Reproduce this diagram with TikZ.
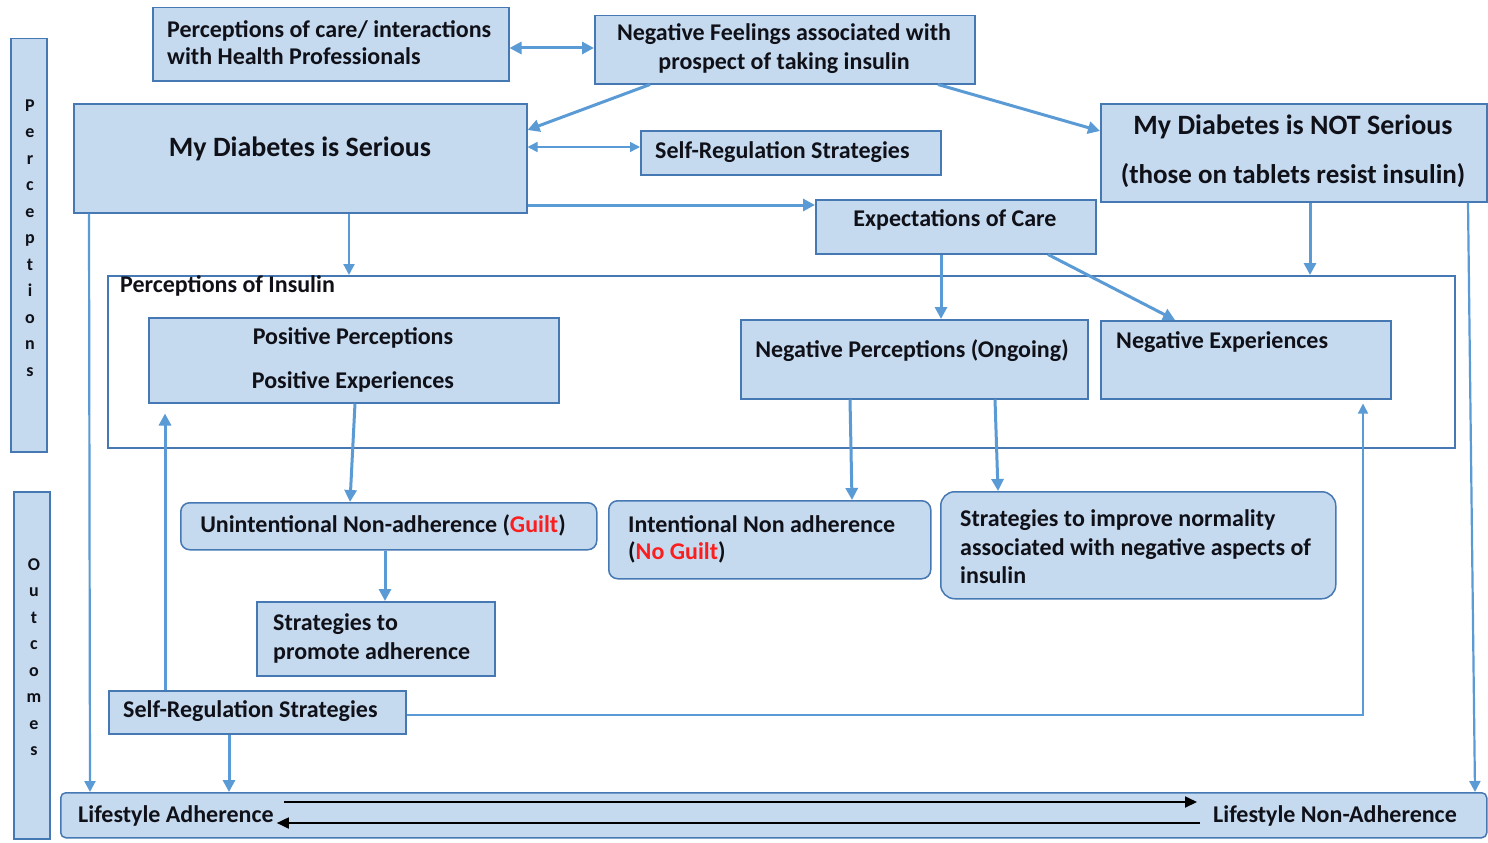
\documentclass[tikz,border=0pt]{standalone}
\usepackage{fontspec}
\setmainfont{Carlito}
\usetikzlibrary{arrows.meta}
\definecolor{boxfill}{RGB}{197,218,239}
\definecolor{boxline}{RGB}{70,120,180}
\definecolor{arrowblue}{RGB}{91,155,213}
\definecolor{textdark}{RGB}{16,16,24}
\definecolor{guiltred}{RGB}{250,30,30}
\newcommand\bfont[2]{\fontsize{#1}{#2}\selectfont\bfseries}

\begin{document}
\begin{tikzpicture}[x=1pt,y=-1pt,
  every node/.style={inner sep=0pt, text=textdark},
  box/.style={draw=boxline, fill=boxfill, line width=1.5pt, anchor=north west},
  rbox/.style={box, rounded corners=9pt},
  lbl/.style={font={\bfont{24}{27}}, align=left, anchor=west},
  clbl/.style={font={\bfont{24}{29}}, align=center},
  biglbl/.style={font={\bfont{28}{34}}, align=center},
  side/.style={font={\bfont{18}{26.5}}, align=center},
  arr/.style={draw=arrowblue, line width=3pt, -{Triangle[length=12pt,width=12pt]}},
  arrtwo/.style={arr, {Triangle[length=12pt,width=12pt]}-{Triangle[length=12pt,width=12pt]}},
  thinarr/.style={draw=arrowblue, line width=1.5pt, -{Triangle[length=10pt,width=10pt]}},
  thintwo/.style={thinarr, {Triangle[length=10pt,width=10pt]}-{Triangle[length=10pt,width=10pt]}},
  midarr/.style={draw=arrowblue, line width=2.2pt, -{Triangle[length=11pt,width=11pt]}},
  blackarr/.style={draw=black, line width=1.8pt, -{Triangle[length=12pt,width=11pt]}}]

\useasboundingbox (0,0) rectangle (1488,843);
\fill[white] (0,0) rectangle (1488,843);

% side bands
\node[box, minimum width=36pt, minimum height=413pt] (percband) at (10,38) {};
\node[side] (perctext) at (30,238) {P\\e\\r\\c\\e\\p\\t\\i\\o\\n\\s};
\node[box, minimum width=36pt, minimum height=347pt] (outband) at (13,491) {};
\node[side] (outtext) at (34,657) {O\\u\\t\\c\\o\\m\\e\\s};

% container for perceptions of insulin
\node[draw=boxline, line width=1.5pt, anchor=north west, minimum width=1347pt, minimum height=172pt] (insulin) at (107,275) {};
\node[lbl] (insulintext) at (120,286) {Perceptions of Insulin};

% upper boxes
\node[box, minimum width=356pt, minimum height=73pt] (care) at (152,7) {};
\node[lbl] (caretext) at (167,43) {Perceptions of care/ interactions\\with Health Professionals};

\node[box, minimum width=380pt, minimum height=68pt] (negfeel) at (594,15) {};
\node[clbl] (negfeeltext) at (784,49) {Negative Feelings associated with\\prospect of taking insulin};

\node[box, minimum width=453pt, minimum height=109pt] (serious) at (73,103) {};
\node[biglbl] (serioustext) at (300,149) {My Diabetes is Serious};

\node[box, minimum width=300pt, minimum height=44pt] (selfregtop) at (640,130) {};
\node[lbl] (selfregtoptext) at (655,152) {Self-Regulation Strategies};

\node[box, minimum width=386pt, minimum height=98pt] (notserious) at (1100,103) {};
\node[biglbl] (notserioustext) at (1293,127) {My Diabetes is NOT Serious};
\node[biglbl, font={\bfont{27}{30}}] (tabletstext) at (1293,176) {(those on tablets resist insulin)};

\node[box, minimum width=280pt, minimum height=54pt] (expect) at (815,199) {};
\node[clbl] (expecttext) at (955,220) {Expectations of Care};

% boxes inside the container
\node[box, minimum width=410pt, minimum height=85pt] (positive) at (148,317) {};
\node[clbl, font={\bfont{24}{44}}] (positivetext) at (353,360) {Positive Perceptions\\Positive Experiences};

\node[box, minimum width=347pt, minimum height=79pt] (negperc) at (740,319) {};
\node[clbl] (negperctext) at (912,351) {Negative Perceptions (Ongoing)};

\node[box, minimum width=290pt, minimum height=78pt] (negexp) at (1100,320) {};
\node[lbl] (negexptext) at (1116,342) {Negative Experiences};

% outcome boxes
\node[rbox, minimum width=416pt, minimum height=47pt] (unint) at (180,502) {};
\node[clbl] (uninttext) at (383,525) {Unintentional Non-adherence (\textcolor{guiltred}{Guilt})};

\node[rbox, minimum width=322pt, minimum height=78pt] (intent) at (608,500) {};
\node[lbl] (intenttext) at (628,539) {Intentional Non adherence\\(\textcolor{guiltred}{No Guilt})};

\node[rbox, rounded corners=14pt, minimum width=395pt, minimum height=107pt] (improve) at (940,491) {};
\node[lbl, font={\bfont{24}{28.5}}] (improvetext) at (960,547) {Strategies to improve normality\\associated with negative aspects of\\insulin};

\node[box, minimum width=238pt, minimum height=74pt] (promote) at (256,601) {};
\node[lbl, font={\bfont{24}{29}}] (promotetext) at (273,638) {Strategies to\\promote adherence};

\node[box, minimum width=297pt, minimum height=43pt] (selfregbot) at (108,690) {};
\node[lbl] (selfregbottext) at (123,711) {Self-Regulation Strategies};

\node[box, rounded corners=5pt, minimum width=1426pt, minimum height=45pt] (lifestyle) at (60,792) {};
\node[lbl] (adhtext) at (78,816) {Lifestyle Adherence};
\node[lbl] (nonadhtext) at (1213,816) {Lifestyle Non-Adherence};

% connectors
\draw[arrtwo] (care.east |- 0,48) -- (negfeel.west |- 0,48);
\draw[arr] (negfeel.south -| 650,0) -- (serious.east |- 0,130);
\draw[thintwo] (serious.east |- 0,147) -- (selfregtop.west |- 0,147);
\draw[arr] (negfeel.south -| 938,0) -- (notserious.west |- 0,131);
\draw[arr] (serious.east |- 0,205) -- (expect.west |- 0,205);
\draw[midarr] (serious.south -| 349,0) -- (insulin.north -| 349,0);
\draw[midarr] (serious.south -| 89,0) -- (lifestyle.north -| 90,0);
\draw[arr] (notserious.south -| 1310,0) -- (insulin.north -| 1310,0);
\draw[midarr] (notserious.south -| 1468,0) -- (lifestyle.north -| 1475,0);
\draw[arr] (expect.south -| 941,0) -- (negperc.north -| 941,0);
\draw[arr] (expect.south -| 1048,0) -- (negexp.north -| 1175,0);
\draw[arr] (positive.south -| 355,0) -- (unint.north -| 350,0);
\draw[arr] (negperc.south -| 850,0) -- (intent.north -| 852,0);
\draw[arr] (negperc.south -| 995,0) -- (improve.north -| 998,0);
\draw[arr] (unint.south -| 385,0) -- (promote.north -| 385,0);
\draw[arr, shorten >=10pt] (selfregbot.north -| 165,0) -- (positive.south -| 165,0);
\draw[thinarr, shorten >=4pt] (selfregbot.east |- 0,715) -| (negexp.south -| 1363,0);
\draw[arr] (selfregbot.south -| 229,0) -- (lifestyle.north -| 229,0);

% two-way flow between the lifestyle outcomes
\draw[blackarr, shorten <=10pt, shorten >=16pt] (adhtext.east |- 0,802) -- (nonadhtext.west |- 0,802);
\draw[blackarr, shorten <=13pt, shorten >=3pt] (nonadhtext.west |- 0,823) -- (adhtext.east |- 0,823);
\end{tikzpicture}
\end{document}
